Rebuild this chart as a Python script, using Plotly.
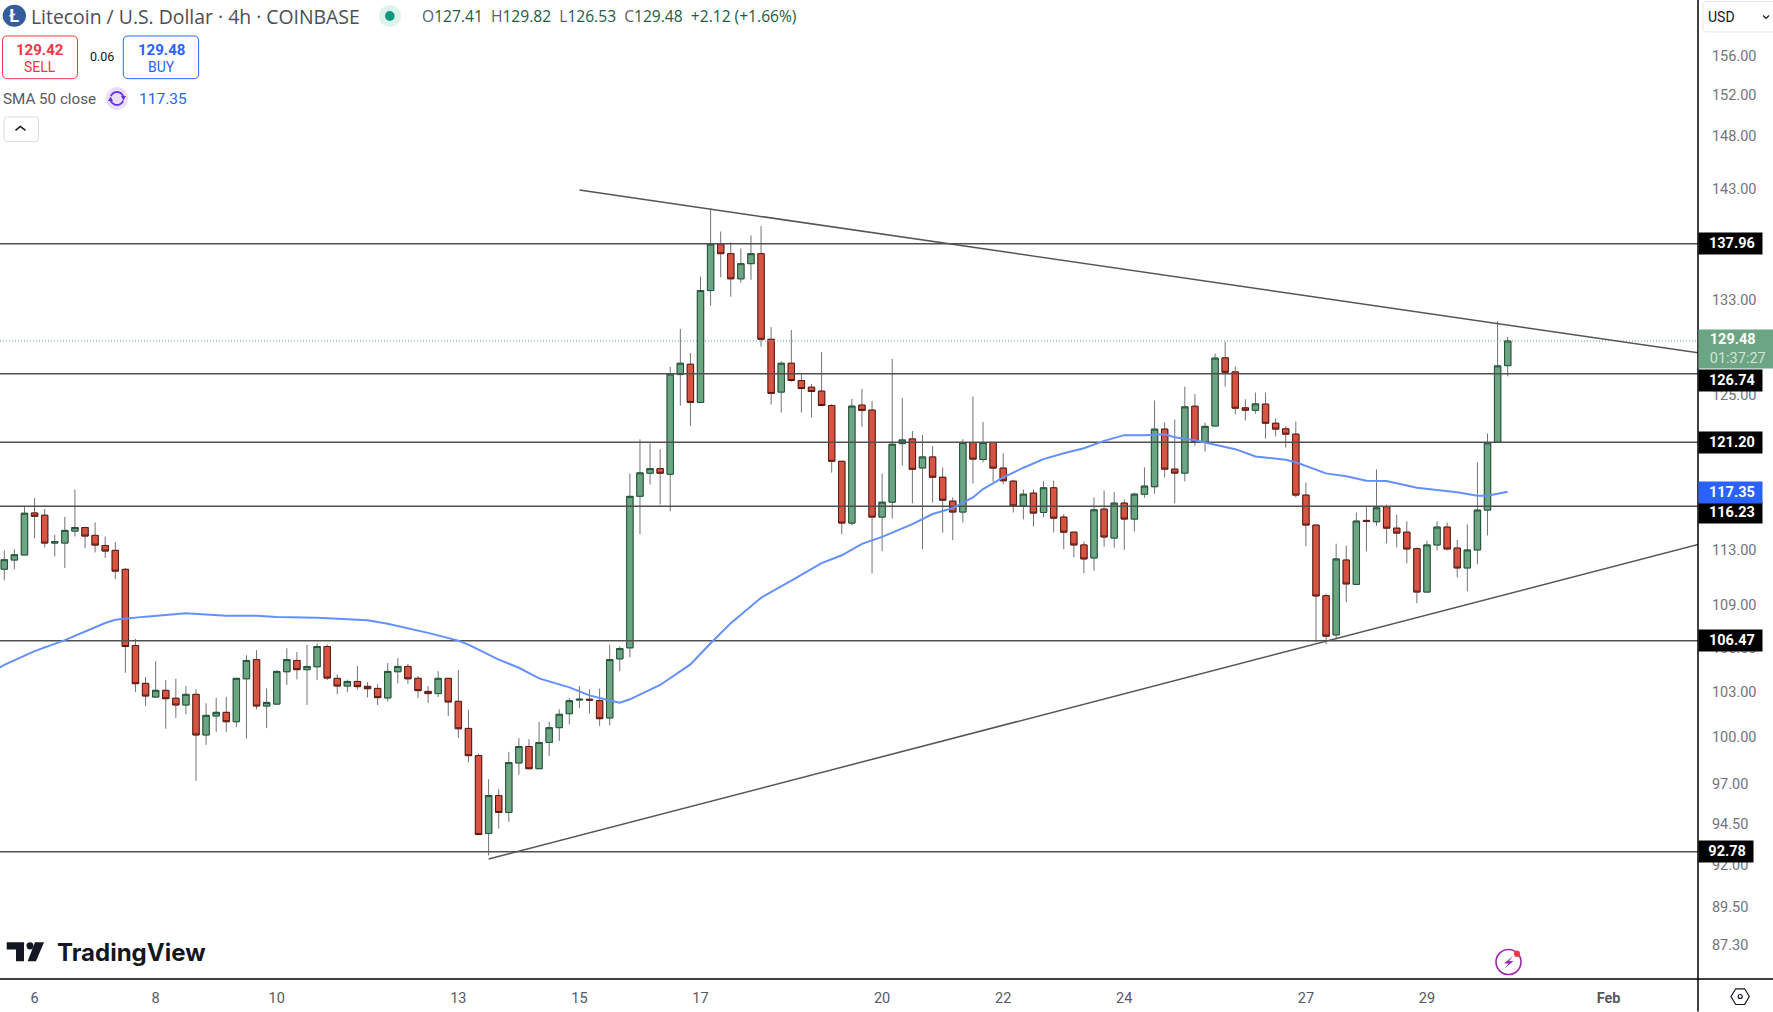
import math
import plotly.graph_objects as go

# ---------- data ----------
opens = [111.56,112.23,112.60,115.73,115.56,113.48,113.48,114.37,114.64,114.05,
113.30,112.94,111.55,106.14,103.55,102.63,103.08,102.55,102.10,102.81,
100.12,101.37,101.61,100.99,103.86,105.17,102.03,102.16,104.34,105.11,
104.48,104.68,106.07,103.89,103.37,103.68,103.35,103.21,102.57,104.34,
104.70,103.89,103.01,102.86,103.89,102.34,100.55,98.78,93.89,96.24,
95.18,98.31,99.37,97.94,99.63,100.60,101.52,102.43,102.48,102.39,
101.24,105.22,105.98,117.00,118.77,119.13,118.69,126.67,127.53,124.39,
133.81,137.93,137.07,134.84,136.18,137.07,129.62,125.23,127.61,126.18,
125.63,125.31,124.14,119.70,114.97,124.17,123.77,115.42,116.55,121.09,
121.46,119.18,120.04,118.46,116.63,115.80,121.17,119.84,121.17,119.17,
118.16,116.27,117.24,115.77,117.65,115.42,114.29,113.34,112.38,116.02,
113.85,116.48,115.27,117.16,117.73,122.24,119.09,118.78,124.08,121.20,
122.49,128.06,126.89,123.95,123.76,124.25,122.71,122.26,121.84,117.09,
114.82,109.65,106.88,112.23,110.46,115.17,115.07,116.20,114.59,114.29,
113.07,109.91,113.34,114.67,113.11,111.65,112.97,115.95,121.20,127.41]
highs = [112.94,113.03,116.23,116.86,116.03,114.10,115.43,117.50,114.69,115.02,
113.97,113.55,111.65,106.60,103.98,105.06,103.77,103.86,103.37,103.15,
102.21,102.57,102.63,103.93,105.47,105.82,103.21,104.43,105.95,105.68,
106.18,106.30,106.21,104.16,103.80,104.73,103.64,103.48,104.93,105.27,
104.88,104.05,103.37,104.38,103.91,104.45,101.77,98.91,97.27,96.64,
99.02,99.91,99.84,100.97,100.99,101.81,102.55,103.37,103.15,103.19,
106.21,106.09,118.74,121.43,121.11,120.64,127.31,130.49,128.47,135.03,
141.18,139.07,138.08,137.54,138.71,139.56,130.66,127.77,130.41,126.75,
125.90,128.55,124.25,119.70,124.68,125.49,124.52,118.74,127.97,124.76,
122.09,121.77,120.90,119.21,116.91,121.44,124.87,122.83,121.17,120.31,
118.27,117.52,117.52,118.16,118.21,115.65,114.34,113.60,116.91,117.44,
117.31,116.75,117.29,119.22,124.54,122.76,123.00,125.68,125.06,122.76,
128.43,129.42,127.33,124.65,125.19,125.19,123.09,122.46,122.84,118.06,
114.84,109.79,113.43,113.29,115.77,116.17,119.07,116.37,115.60,115.10,
113.16,113.65,115.10,115.02,113.72,114.87,119.61,121.89,131.18,129.82]
lows = [110.75,111.56,112.60,113.83,113.16,112.50,111.65,113.97,113.10,112.79,
112.38,110.85,104.27,102.97,102.03,102.63,100.53,101.24,101.48,97.17,
99.48,100.32,100.32,100.64,99.89,101.81,100.57,102.10,103.44,103.82,
102.10,103.77,103.77,102.83,102.97,103.15,102.61,102.10,102.34,103.55,
103.51,102.57,102.23,102.63,101.37,99.93,98.35,93.82,92.54,94.18,
94.61,97.55,97.90,97.94,98.76,99.73,100.82,101.90,101.55,100.71,
100.75,104.38,105.33,114.13,117.90,116.37,115.85,124.12,122.51,124.39,
132.49,134.98,133.27,134.49,134.75,129.00,124.22,123.58,126.07,123.58,
123.18,124.14,118.82,114.13,114.80,122.43,111.26,112.87,115.32,119.37,
116.47,113.02,116.52,114.27,113.69,115.02,117.98,119.61,118.11,117.91,
115.77,115.24,114.72,115.40,114.27,113.02,112.43,111.26,111.46,113.21,
113.14,112.97,114.34,116.88,117.19,118.44,116.45,118.14,120.91,120.46,
122.46,125.68,123.41,122.92,123.49,121.49,121.65,120.78,116.91,113.24,
106.37,106.23,106.56,109.18,110.42,112.87,114.77,113.46,113.16,111.99,
109.11,109.89,112.94,112.94,110.97,109.97,111.92,114.05,121.20,126.53]
closes = [112.25,112.62,115.71,115.48,113.48,113.58,114.42,114.64,114.00,113.33,
112.89,111.42,106.07,103.53,102.70,103.08,102.52,102.10,102.81,100.12,
101.41,101.61,100.99,103.89,105.11,102.03,102.27,104.36,105.17,104.48,
104.70,106.07,103.91,103.37,103.68,103.33,103.19,102.59,104.36,104.70,
103.86,103.06,102.86,103.89,102.30,100.53,98.78,93.82,96.24,95.18,
98.33,99.37,97.94,99.63,100.60,101.48,102.39,102.48,102.43,101.19,
105.17,105.93,116.99,118.80,119.13,118.77,126.72,127.61,124.39,133.81,
137.93,137.07,134.84,136.18,137.07,129.62,125.12,127.61,126.18,125.52,
125.28,124.14,119.70,114.97,124.09,123.74,115.42,116.55,121.04,121.38,
119.08,120.04,118.46,116.70,115.80,121.17,119.87,121.17,119.17,118.19,
116.27,117.16,115.72,117.65,115.34,114.29,113.34,112.31,115.97,113.93,
116.48,115.27,117.16,117.78,122.24,119.09,118.78,124.03,121.20,122.46,
128.04,126.86,123.92,123.76,124.27,122.71,122.24,121.84,117.09,114.82,
109.63,106.79,112.31,110.49,115.12,115.10,116.12,114.59,114.22,113.04,
109.91,113.34,114.67,113.04,111.65,112.97,115.95,121.15,127.39,129.48]

sma_bars = [-1,0,3,6,10,11,14,18,22,25,27,31,36,38,42,45,46,49,51,53,56,58,60,61,62,65,68,70,72,74,75,78,81,83,85,87,89,90,92,94,96,97,99,101,103,105,107,109,111,113,115,116,118,120,122,124,127,128,131,133,135,137,140,144,146,147,149]
sma_vals = [104.4,104.81,105.75,106.51,107.71,107.94,108.16,108.39,108.22,108.22,108.13,108.08,107.9,107.66,107.02,106.48,106.2,105.17,104.61,103.89,103.28,102.74,102.4,102.25,102.48,103.44,104.84,106.3,107.7,108.9,109.5,110.73,112.01,112.58,113.42,113.94,114.6,114.89,115.65,116.1,116.91,117.55,118.45,119.2,119.87,120.33,120.73,121.31,121.76,121.76,121.84,121.6,121.35,121.0,120.65,120.08,119.82,119.62,118.76,118.53,118.19,118.17,117.65,117.3,117.04,117.04,117.35]

level_prices = [137.96, 126.74, 121.20, 116.23, 106.47, 92.78]
last_price = 129.48
sma_last = 117.35
upper_trend_bars, upper_trend_prices = [57, 167.9], [142.88, 128.48]
lower_trend_bars, lower_trend_prices = [48, 167.9], [92.33, 113.38]

price_ticks = [156, 152, 148, 143, 133, 125, 113, 109, 106, 103, 100, 97, 94.5, 92, 89.5, 87.3]
date_tick_bars = [3, 15, 27, 45, 57, 69, 87, 99, 111, 129, 141, 159]
date_tick_labels = ["6", "8", "10", "13", "15", "17", "20", "22", "24", "27", "29", "<b>Feb</b>"]

# ---------- layout constants ----------
W, H = 1773, 1012
PW, PH = 1698, 979.5
FONT = "Roboto"
WIDE = "Open Sans"
UP, UP_B = "#6ba583", "#225437"
DN, DN_B = "#d75442", "#5b1a13"
WICK = "#737375"
LINE = "#505050"
XR = [-0.426, 167.86]
YR = [math.log10(85.38), math.log10(161.75)]

def px(x): return x / PW
def py(y): return 1 - y / PH
def path(pts, close=True):
    s = "M " + " L ".join(f"{px(x):.5f},{py(y):.5f}" for x, y in pts)
    return s + (" Z" if close else "")
def rrect(x0, y0, x1, y1, r=3):
    c = lambda a, b: f"{px(a):.5f},{py(b):.5f}"
    return (f"M {c(x0+r,y0)} L {c(x1-r,y0)} Q {c(x1,y0)} {c(x1,y0+r)} L {c(x1,y1-r)} Q {c(x1,y1)} {c(x1-r,y1)} "
            f"L {c(x0+r,y1)} Q {c(x0,y1)} {c(x0,y1-r)} L {c(x0,y0+r)} Q {c(x0,y0)} {c(x0+r,y0)} Z")
def arc(cx, cy, r, a0, a1, n=14):
    return [(cx + r * math.cos(math.radians(a0 + (a1 - a0) * k / n)),
             cy + r * math.sin(math.radians(a0 + (a1 - a0) * k / n))) for k in range(n + 1)]

bars = list(range(len(opens)))
fig = go.Figure()

# levels, dotted last price, trend lines, SMA below the candles
for p in level_prices:
    fig.add_trace(go.Scatter(x=XR, y=[p, p], mode="lines", line=dict(color=LINE, width=1.5), hoverinfo="skip"))
fig.add_trace(go.Scatter(x=XR, y=[last_price, last_price], mode="lines",
                         line=dict(color=UP, width=1, dash="1px 2px"), hoverinfo="skip"))
fig.add_trace(go.Scatter(x=upper_trend_bars, y=upper_trend_prices, mode="lines", line=dict(color="#555555", width=1.5), hoverinfo="skip"))
fig.add_trace(go.Scatter(x=lower_trend_bars, y=lower_trend_prices, mode="lines", line=dict(color="#555555", width=1.5), hoverinfo="skip"))
fig.add_trace(go.Scatter(x=sma_bars, y=sma_vals, mode="lines", line=dict(color="#6490ff", width=2), hoverinfo="skip"))

# wicks (grey) then bodies with dark outlines
fig.add_trace(go.Candlestick(x=bars, open=opens, high=highs, low=lows, close=closes, whiskerwidth=0,
                             increasing=dict(line=dict(color=WICK, width=1), fillcolor=UP),
                             decreasing=dict(line=dict(color=WICK, width=1), fillcolor=DN), hoverinfo="skip"))
body_hi = [max(a, b) for a, b in zip(opens, closes)]
body_lo = [min(a, b) for a, b in zip(opens, closes)]
fig.add_trace(go.Candlestick(x=bars, open=opens, high=body_hi, low=body_lo, close=closes, whiskerwidth=0,
                             increasing=dict(line=dict(color=UP_B, width=1), fillcolor=UP),
                             decreasing=dict(line=dict(color=DN_B, width=1), fillcolor=DN), hoverinfo="skip"))

shapes = []
def S(**k):
    k.setdefault("xref", "paper"); k.setdefault("yref", "paper"); k.setdefault("layer", "above")
    shapes.append(k)
def PATH(d, fill=None, color=None, w=1):
    S(type="path", path=d, fillcolor=fill or "rgba(0,0,0,0)", line=dict(color=color or "rgba(0,0,0,0)", width=w if color else 0))
def CIRC(x0, y0, x1, y1, fill=None, color=None, w=1):
    S(type="circle", x0=px(x0), x1=px(x1), y0=py(y1), y1=py(y0), fillcolor=fill or "rgba(0,0,0,0)",
      line=dict(color=color or "rgba(0,0,0,0)", width=w if color else 0))

# axis frame
S(type="line", x0=1, x1=1, y0=py(H), y1=1, line=dict(color="#000", width=1.5))
S(type="line", x0=0, x1=px(W), y0=0, y1=0, line=dict(color="#000", width=1.5))

# header chrome
CIRC(2.7, 4.7, 26, 26.7, fill="#345d9d")
CIRC(379, 5, 401, 27, fill="#dff3ee")
CIRC(385, 11, 394.6, 21, fill="#089981")
PATH(rrect(2.5, 36, 77.5, 78.7, 5), fill="#ffffff", color="#f23645")
PATH(rrect(123.3, 36, 198.6, 78.7, 5), fill="#ffffff", color="#2962ff")
CIRC(106, 87, 128, 110, fill="#e8e0fb")
PURP = "#6a2cf0"
PATH(path(arc(117, 98.5, 6.5, 200, 340), close=False), color=PURP, w=1.8)
PATH(path(arc(117, 98.5, 6.5, 20, 160), close=False), color=PURP, w=1.8)
PATH(path([(121, 96), (126, 96), (123.4, 100.5)]), fill=PURP)
PATH(path([(108, 101), (113, 101), (110.6, 96.5)]), fill=PURP)
PATH(rrect(4, 117, 38.5, 141.7, 3), fill="#ffffff", color="#d8dae0")
PATH(path([(15.5, 130.5), (20.3, 126.5), (25.5, 130.5)], close=False), color="#131722", w=1.5)
PATH(rrect(1703, 1.5, 1785, 32, 4), fill="#ffffff", color="#e4e6ec")
PATH(path([(1763, 15.5), (1766, 18.5), (1769, 15.5)], close=False), color="#131722", w=1.2)

# TradingView mark
PATH(path([(6.7, 942.7), (24, 942.7), (24, 961.7), (16, 961.7), (16, 950), (6.7, 950)]), fill="#131722")
CIRC(26.5, 942.7, 33.5, 950, fill="#131722")
PATH(path([(35, 942.7), (44, 942.7), (36, 961.7), (27.7, 961.7)]), fill="#131722")

# lightning badge
CIRC(1496, 950, 1521, 975, color="#9c27b0", w=1.6)
PATH(path([(1513, 956.5), (1504, 964), (1508.5, 964), (1504.5, 969), (1513.5, 961.5), (1509, 961.5)]), fill="#9c27b0")
CIRC(1514, 951, 1520, 957.5, fill="#f23645")

# settings hexagon
PATH(path([(1731, 997), (1735.7, 989.3), (1744.7, 989.3), (1749.3, 997), (1744.7, 1005), (1735.7, 1005)]), color="#131722", w=1.2)
CIRC(1738.2, 995, 1742.2, 999, color="#131722", w=1.2)

# texts
anns = []
def T(x, y, text, size=14, color="#131722", anchor="left", family=FONT):
    anns.append(dict(xref="paper", yref="paper", x=px(x), y=py(y), text=text, showarrow=False, xanchor=anchor,
                     yanchor="middle", font=dict(family=family, size=size, color=color), borderpad=0, borderwidth=0))

T(14.3, 16, "<b>Ł</b>", 18, "#ffffff", "center")
T(31, 17, "Litecoin / U.S. Dollar · 4h · COINBASE", 19.4, "#4a4e57", "left", WIDE)
G = "#225c3e"; K = "#5a5e68"
ohlc = (f"<span style='color:{K}'>O</span><span style='color:{G}'>127.41</span>  "
        f"<span style='color:{K}'>H</span><span style='color:{G}'>129.82</span>  "
        f"<span style='color:{K}'>L</span><span style='color:{G}'>126.53</span>  "
        f"<span style='color:{K}'>C</span><span style='color:{G}'>129.48</span>  "
        f"<span style='color:{G}'>+2.12 (+1.66%)</span>")
T(421.5, 16.5, ohlc, 15.6, G, "left", WIDE)
T(40, 50, "<b>129.42</b>", 15, "#f23645", "center")
T(40, 67, "SELL", 14, "#f23645", "center")
T(161, 50, "<b>129.48</b>", 15, "#2962ff", "center")
T(161, 67, "BUY", 14, "#2962ff", "center")
T(102, 57, "0.06", 12.5, "#131722", "center")
T(3, 99, "SMA 50 close", 15.2, "#555963")
T(139, 99, "117.35", 15.5, "#2962ff")
T(1708, 17, "USD", 14, "#131722")
T(57, 953, "<b>TradingView</b>", 24, "#131722", "left", "Inter")

def tag(price, text, shift=0, width=63, bg="#000000"):
    anns.append(dict(xref="paper", yref="y", x=1, y=math.log10(price), yshift=shift, text=f"<b>{text}</b>&nbsp;&nbsp;",
                     showarrow=False, xanchor="left", yanchor="middle", align="right", width=width, height=20.5,
                     bgcolor=bg, borderpad=0, font=dict(family=FONT, size=14.5, color="#ffffff")))
tag(137.96, "137.96")
tag(126.74, "126.74", -6.5)
tag(121.20, "121.20")
tag(116.23, "116.23", -6.5)
tag(sma_last, "117.35", -0.5, bg="#2962ff")
tag(106.47, "106.47")
tag(92.78, "92.78", width=54)
anns.append(dict(xref="paper", yref="y", x=1, y=math.log10(last_price), yshift=-8, showarrow=False, xanchor="left", yanchor="middle",
                 align="left", width=75, height=38, bgcolor=UP, borderpad=0,
                 text="&nbsp;&nbsp;&nbsp;<b>129.48</b><br>&nbsp;&nbsp;&nbsp;<span style='color:#d3e4da'>01:37:27</span>",
                 font=dict(family=FONT, size=14.5, color="#ffffff")))

fig.update_layout(
    width=W, height=H, margin=dict(l=0, r=W - PW, t=0, b=H - PH, autoexpand=False, pad=0),
    paper_bgcolor="#ffffff", plot_bgcolor="#ffffff", showlegend=False, boxgap=0.1,
    shapes=shapes, annotations=anns, hovermode=False, dragmode=False,
    xaxis=dict(range=XR, rangeslider=dict(visible=False), showgrid=False, zeroline=False, showline=False,
               tickmode="array", tickvals=date_tick_bars, ticktext=date_tick_labels, ticks="outside", ticklen=6,
               tickcolor="rgba(0,0,0,0)", tickfont=dict(family=FONT, size=14.5, color="#555963"), automargin=False),
    yaxis=dict(type="log", range=YR, side="right", showgrid=False, zeroline=False, showline=False,
               tickmode="array", tickvals=price_ticks, ticktext=[f"{v:.2f}" for v in price_ticks], ticks="outside", ticklen=10,
               tickcolor="rgba(0,0,0,0)", tickfont=dict(family=FONT, size=14.5, color="#707480"), automargin=False),
)
fig.write_html("out.html", config=dict(displayModeBar=False),
               post_script="document.body.style.margin='0';document.body.style.overflow='hidden';")
